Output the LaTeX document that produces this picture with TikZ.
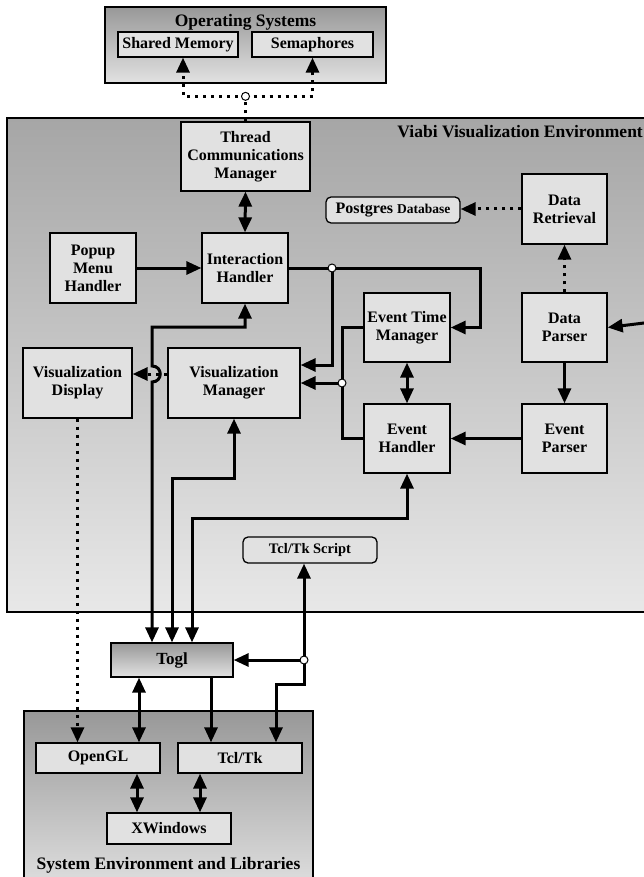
\documentclass[tikz,border=0pt]{standalone}
\usepackage{fontspec}
\setmainfont{Liberation Serif}
\usetikzlibrary{arrows.meta,calc}
\definecolor{boxfill}{HTML}{E1E1E1}
\definecolor{shtop}{HTML}{989898}
\definecolor{shbot}{HTML}{E2E2E2}
\definecolor{vtop}{HTML}{A6A6A6}
\definecolor{vbot}{HTML}{E8E8E8}
\begin{document}
\begin{tikzpicture}[x=1pt,y=-1pt,
  box/.style={draw, line width=1.3pt, fill=boxfill, inner sep=0pt, align=center,
    font=\fontsize{16}{18}\selectfont\bfseries},
  rbox/.style={box, rounded corners=5pt},
  ttl/.style={font=\fontsize{17.5}{20}\selectfont\bfseries, inner sep=0pt},
  outer/.style={draw, line width=1.5pt, top color=shtop, bottom color=shbot},
  ln/.style={line width=3pt},
  arr/.style={ln, -{Triangle[length=15pt,width=13pt]}},
  dbl/.style={ln, {Triangle[length=15pt,width=13pt]}-{Triangle[length=15pt,width=13pt]}},
  dotln/.style={line width=3pt, dash pattern=on 3pt off 5pt},
  dotarr/.style={dotln, -{Triangle[length=15pt,width=13pt]}},
  junc/.style={circle, draw, fill=white, line width=1pt, inner sep=0pt, minimum size=8pt},
]
\useasboundingbox (0,0) rectangle (644,877);
\fill[white] (0,0) rectangle (644,877);
\clip (0,0) rectangle (644,877);

% outer containers
\path[outer] (105,7) rectangle (386,83);
\node[ttl] (ostitle) at (245.5,22) {Operating Systems};
\path[draw, line width=1.5pt, top color=vtop, bottom color=vbot] (7,118) rectangle (660,612);
\node[ttl, anchor=east] (vtitle) at (643,132) {Viabi Visualization Environment};
\path[outer] (24,711) rectangle (313,895);
\node[ttl] (systitle) at (168.5,865) {System Environment and Libraries};

% nodes
\node[box, minimum width=120pt, minimum height=25pt] (shm) at (178,44.5) {Shared Memory};
\node[box, minimum width=121pt, minimum height=25pt] (sem) at (312.5,44.5) {Semaphores};

\node[box, minimum width=129pt, minimum height=69pt] (thr) at (245.5,156.5) {Thread\\Communications\\Manager};
\node[box, minimum width=86pt, minimum height=70pt] (int) at (245,268) {Interaction\\Handler};
\node[box, minimum width=86pt, minimum height=70pt] (pop) at (93,268) {Popup\\Menu\\Handler};
\node[box, minimum width=109pt, minimum height=70pt] (vd) at (77.5,383) {Visualization\\Display};
\node[box, minimum width=132pt, minimum height=70pt] (vm) at (234,383) {Visualization\\Manager};
\node[box, minimum width=86pt, minimum height=69pt] (etm) at (407,327.5) {Event Time\\Manager};
\node[box, minimum width=86pt, minimum height=69pt] (eh) at (407,438.5) {Event\\Handler};
\node[box, minimum width=85pt, minimum height=69pt] (dp) at (564.5,327.5) {Data\\Parser};
\node[box, minimum width=85pt, minimum height=69pt] (ep) at (564.5,438.5) {Event\\Parser};
\node[box, minimum width=85pt, minimum height=70pt] (dr) at (564.5,209) {Data\\Retrieval};
\node[rbox, minimum width=134pt, minimum height=26pt] (pg) at (393,210)
  {Postgres {\fontsize{13.5}{15}\selectfont Database}};
\node[rbox, minimum width=134pt, minimum height=26pt, font=\fontsize{14.5}{16}\selectfont\bfseries] (tcs) at (310,550) {Tcl/Tk Script};

\node[box, minimum width=122pt, minimum height=34pt, top color=shtop, bottom color=shbot,
  font=\fontsize{17}{18}\selectfont\bfseries] (togl) at (172,660) {Togl};
\node[box, minimum width=124pt, minimum height=30pt] (ogl) at (98,758) {OpenGL};
\node[box, minimum width=124pt, minimum height=30pt] (tcl) at (240,758) {Tcl/Tk};
\node[box, minimum width=124pt, minimum height=31pt] (xw) at (169,828.5) {XWindows};

% junction coordinates
\coordinate (osj) at ($(thr.north)+(0,-25)$);
\coordinate (j1) at (332,268);
\coordinate (j2) at (342,383);
\coordinate (j3) at (304,660);
\coordinate (rin) at (652,322);

% OS connectors
\draw[dotln] (thr.north) -- (osj);
\draw[dotarr] (osj) -| ([xshift=5pt]shm.south);
\draw[dotarr] (osj) -| (sem.south);

% Viabi connectors
\draw[dbl] (thr.south) -- (int.north);
\draw[arr] (pop.east) -- (int.west);
\draw[ln] (int.east) -- (j1);
\draw[arr] (j1) -- (480,268) |- (etm.east);
\draw[arr] (j1) |- ([yshift=18pt]vm.east);
\draw[ln] (etm.west) -| (j2) |- (eh.west);
\draw[arr] (j2) -- (vm.east);
\draw[dbl] (etm.south) -- (eh.north);
\draw[arr] (dp.south) -- (ep.north);
\draw[arr] (ep.west) -- (eh.east);
\draw[arr] (rin) -- (dp.east);
\draw[dotarr] (dp.north) -- (dr.south);
\draw[dotarr] (dr.west) -- (dr.west -| pg.east);
\draw[dotarr] ([yshift=9pt]vm.west) -- ([yshift=9pt]vd.east);

% Togl connectors
\draw[dbl] ([xshift=-20pt]togl.north) -- (152,382) .. controls (163,382) and (163,366) .. (152,366) -- (152,327) -| (int.south);
\draw[dbl] (togl.north) -- (172,478) -| (vm.south);
\draw[dbl] ([xshift=20pt]togl.north) -- (192,518) -| (eh.south);
\draw[arr] (j3) -- (j3 |- tcs.south);
\draw[arr] (j3) -- (togl.east);
\draw[arr] (j3) -- (304,684) -| ([xshift=36pt]tcl.north);
\draw[arr] ([xshift=39pt]togl.south) -- ([xshift=39pt]togl.south |- tcl.north);
\draw[dbl] ([xshift=-33pt]togl.south) -- ([xshift=-33pt]togl.south |- ogl.north);
\draw[dotarr] (vd.south) -- (vd.south |- ogl.north);
\draw[dbl] ([xshift=-32pt]xw.north) -- ([xshift=-32pt]xw.north |- ogl.south);
\draw[dbl] ([xshift=31pt]xw.north) -- ([xshift=31pt]xw.north |- tcl.south);

% junction markers
\node[junc] (osjn) at (osj) {};
\node[junc] (j1n) at (j1) {};
\node[junc] (j2n) at (j2) {};
\node[junc] (j3n) at (j3) {};
\end{tikzpicture}
\end{document}
